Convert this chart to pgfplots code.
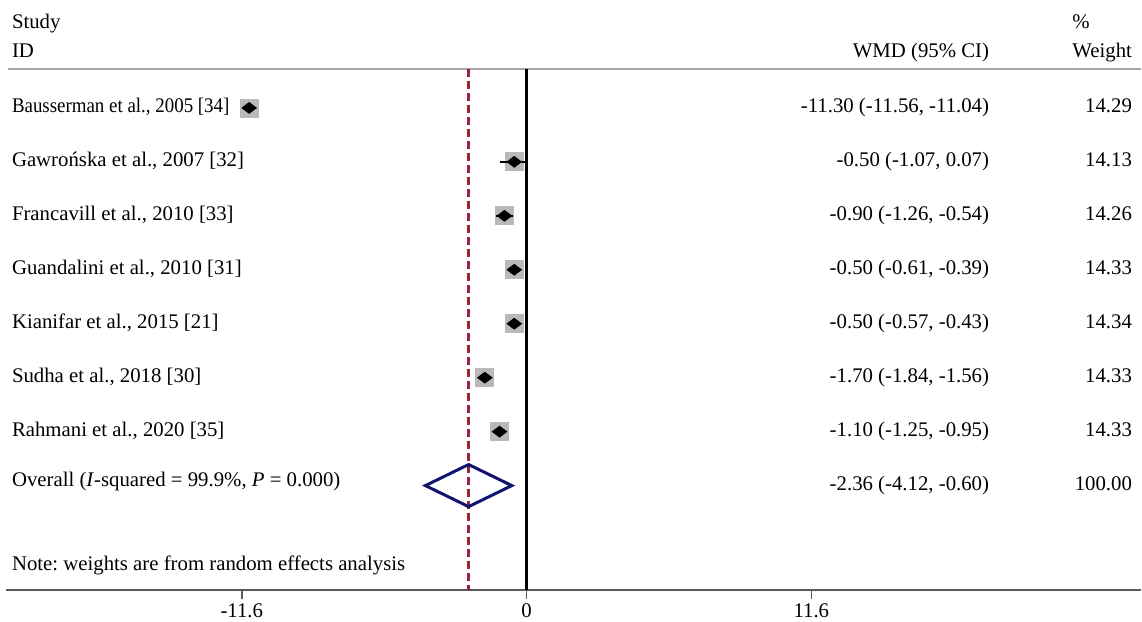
\documentclass[border=0pt]{standalone}
\usepackage{fontspec}
\setmainfont{Liberation Serif}
\usepackage{pgfplots}
\pgfplotsset{compat=1.18}
\usepackage{pgfplotstable}

\definecolor{boxgray}{RGB}{185,185,185}
\definecolor{refred}{RGB}{155,35,55}
\definecolor{diamblue}{RGB}{15,20,110}
\definecolor{rulegray}{RGB}{165,165,170}
\definecolor{axisgray}{RGB}{90,90,90}

% row, point estimate, 95% CI
\pgfplotstableread{
row est lo hi
1 -11.30 -11.56 -11.04
2 -0.50 -1.07 0.07
3 -0.90 -1.26 -0.54
4 -0.50 -0.61 -0.39
5 -0.50 -0.57 -0.43
6 -1.70 -1.84 -1.56
7 -1.10 -1.25 -0.95
}\studies

\frenchspacing
\begin{document}
\begin{tikzpicture}[font=\fontsize{10.4}{12.5}\selectfont,
  every node/.style={inner sep=0pt, outer sep=0pt}]
\begin{axis}[
    width=571pt, height=311pt, scale only axis,
    hide axis, clip=false, clip marker paths=true,
    xmin=-21.449, xmax=25.031,
    ymin=-1, ymax=10.5185, y dir=reverse,
]
% keep the whole axis area as the picture
\path (rel axis cs:0,0) rectangle (rel axis cs:1,1);

% header and rules
\draw[rulegray, line width=1pt] (axis cs:-21.13,0.278) -- (axis cs:25.031,0.278);
\draw[axisgray, line width=1pt] (axis cs:-21.2,9.944) -- (axis cs:25.031,9.944);
\draw[axisgray, line width=0.8pt] (axis cs:-11.6,9.944) -- (axis cs:-11.6,10.1);
\draw[axisgray, line width=0.8pt] (axis cs:0,9.944) -- (axis cs:0,10.1);
\draw[axisgray, line width=0.8pt] (axis cs:11.6,9.944) -- (axis cs:11.6,10.1);
\node[anchor=base] at (axis cs:-11.6,10.444) {-11.6};
\node[anchor=base] at (axis cs:0,10.444) {0};
\node[anchor=base] at (axis cs:11.6,10.444) {11.6};

\node[anchor=base west] at (axis cs:-20.96,-0.463) {Study};
\node[anchor=base west] at (axis cs:-20.96,0.074) {ID};
\node[anchor=base east] at (axis cs:18.84,0.074) {WMD (95\% CI)};
\node[anchor=base east] (wt) at (axis cs:24.66,0.074) {Weight};
\node[anchor=base west] at ([yshift=14.5pt]wt.base west) {\%};

% reference lines
\addplot[black, line width=1.7pt] coordinates {(0,0.278) (0,9.944)};
\addplot[refred, line width=1.5pt, dash pattern=on 4pt off 2pt] coordinates {(-2.36,0.278) (-2.36,9.944)};

% study boxes, then CIs, then point estimates
\addplot[only marks, mark=square*, mark size=4.5pt, mark options={draw=boxgray, fill=boxgray}]
  table[x=est, y=row] {\studies};
\addplot[draw=none, mark=none,
  error bars/.cd, x dir=both, x explicit, error mark=none,
  error bar style={draw=black, line width=1.3pt}]
  table[x=est, y=row, x error plus expr=\thisrow{hi}-\thisrow{est}, x error minus expr=\thisrow{est}-\thisrow{lo}] {\studies};
\addplot[only marks, mark=diamond*, mark size=3.6pt, mark options={rotate=90, black}]
  table[x=est, y=row] {\studies};

% overall diamond
\addplot[diamblue, line width=1.5pt, line join=miter]
  coordinates {(-4.12,8) (-2.36,7.61) (-0.60,8) (-2.36,8.39)} -- cycle;

% labels
\node[anchor=mid west, xscale=0.91] at (axis cs:-20.96,1) {Bausserman et al., 2005 [34]};
\node[anchor=mid west] at (axis cs:-20.96,2) {Gawrońska et al., 2007 [32]};
\node[anchor=mid west] at (axis cs:-20.96,3) {Francavill et al., 2010 [33]};
\node[anchor=mid west] at (axis cs:-20.96,4) {Guandalini et al., 2010 [31]};
\node[anchor=mid west] at (axis cs:-20.96,5) {Kianifar et al., 2015 [21]};
\node[anchor=mid west] at (axis cs:-20.96,6) {Sudha et al., 2018 [30]};
\node[anchor=mid west] at (axis cs:-20.96,7) {Rahmani et al., 2020 [35]};
\node[anchor=mid west] at (axis cs:-20.96,7.93) {Overall (\textit{I}-squared = 99.9\%, \textit{P} = 0.000)};
\node[anchor=mid west] at (axis cs:-20.96,9.48) {Note: weights are from random effects analysis};

\node[anchor=mid east] at (axis cs:18.84,1) {-11.30 (-11.56, -11.04)};
\node[anchor=mid east] at (axis cs:18.84,2) {-0.50 (-1.07, 0.07)};
\node[anchor=mid east] at (axis cs:18.84,3) {-0.90 (-1.26, -0.54)};
\node[anchor=mid east] at (axis cs:18.84,4) {-0.50 (-0.61, -0.39)};
\node[anchor=mid east] at (axis cs:18.84,5) {-0.50 (-0.57, -0.43)};
\node[anchor=mid east] at (axis cs:18.84,6) {-1.70 (-1.84, -1.56)};
\node[anchor=mid east] at (axis cs:18.84,7) {-1.10 (-1.25, -0.95)};
\node[anchor=mid east] at (axis cs:18.84,8) {-2.36 (-4.12, -0.60)};

\node[anchor=mid east] at (axis cs:24.66,1) {14.29};
\node[anchor=mid east] at (axis cs:24.66,2) {14.13};
\node[anchor=mid east] at (axis cs:24.66,3) {14.26};
\node[anchor=mid east] at (axis cs:24.66,4) {14.33};
\node[anchor=mid east] at (axis cs:24.66,5) {14.34};
\node[anchor=mid east] at (axis cs:24.66,6) {14.33};
\node[anchor=mid east] at (axis cs:24.66,7) {14.33};
\node[anchor=mid east] at (axis cs:24.66,8) {100.00};
\end{axis}
\end{tikzpicture}
\end{document}
